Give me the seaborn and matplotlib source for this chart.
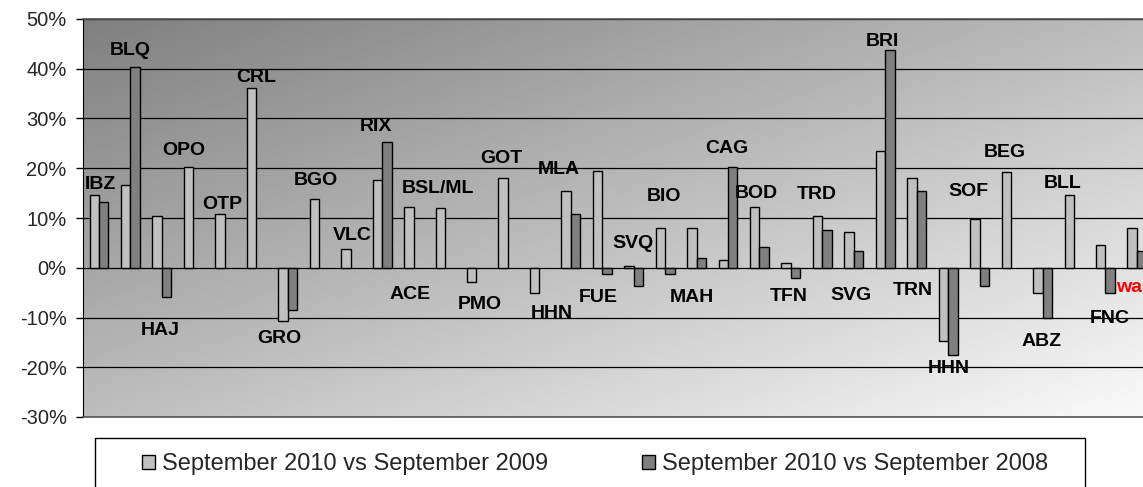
import matplotlib
matplotlib.use("Agg")
import matplotlib.pyplot as plt
import matplotlib.patches as mpatches
from matplotlib.ticker import FuncFormatter
import seaborn as sns
import numpy as np
import pandas as pd

# airport codes, one slot each (HHN appears twice in the original)
codes = ["IBZ", "BLQ", "HAJ", "OPO", "OTP", "CRL", "GRO", "BGO", "VLC", "RIX",
         "ACE", "BSL/ML", "PMO", "GOT", "HHN", "MLA", "FUE", "SVQ", "BIO", "MAH",
         "CAG", "BOD", "TFN", "TRD", "SVG", "BRI", "TRN", "HHN", "SOF", "BEG",
         "ABZ", "BLL", "FNC", "wa"]

# % change, Sept 2010 vs Sept 2009
vs_2009 = [14.6, 16.6, 10.5, 20.3, 10.8, 36.2, -10.7, 13.9, 3.7, 17.7,
           12.3, 12.0, -2.8, 18.0, -5.1, 15.4, 19.5, 0.3, 7.9, 7.9,
           1.5, 12.3, 1.0, 10.5, 7.1, 23.4, 18.0, -14.8, 9.7, 19.2,
           -5.1, 14.6, 4.5, 7.9]

# % change, Sept 2010 vs Sept 2008 (None = no bar)
vs_2008 = [13.2, 40.3, -5.8, None, None, None, -8.5, None, None, 25.2,
           None, None, None, None, None, 10.9, -1.3, -3.6, -1.3, 1.9,
           20.3, 4.1, -2.0, 7.5, 3.4, 43.8, 15.4, -17.5, -3.6, None,
           -10.0, None, -5.1, 3.3]

series_names = ["September 2010 vs September 2009", "September 2010 vs September 2008"]

# where the hand-placed code labels sit (data coords)
label_x = [0.06, 0.99, 1.94, 2.70, 3.91, 4.99, 5.75, 6.90, 8.04, 8.81,
           9.89, 10.78, 12.11, 12.78, 14.40, 14.63, 15.87, 16.98, 17.96, 18.85,
           19.97, 20.89, 21.94, 22.83, 23.91, 24.90, 25.88, 27.03, 27.63, 28.81,
           29.98, 30.65, 32.15, 32.34]
label_y = [16.7, 43.7, -12.7, 23.5, 12.7, 38.2, -14.3, 17.5, 6.4, 28.4,
           -5.4, 15.9, -7.4, 21.9, -9.1, 19.7, -6.0, 4.8, 14.3, -6.0,
           23.9, 14.9, -5.8, 14.7, -5.6, 45.5, -4.6, -20.3, 15.3, 23.1,
           -14.9, 16.9, -10.3, -4.0]

rows = []
for i in range(len(codes)):
    rows.append({"slot": i, "serie": series_names[0], "valor": vs_2009[i]})
    if vs_2008[i] is not None:
        rows.append({"slot": i, "serie": series_names[1], "valor": vs_2008[i]})
df = pd.DataFrame(rows)

sns.set_style("white")
plt.rcParams["font.family"] = ["Liberation Sans", "DejaVu Sans"]

W, H = 1143, 487
fig = plt.figure(figsize=(W / 100, H / 100), dpi=100)
ax = fig.add_axes([83.3 / W, (H - 417) / H, 1069.3 / W, 398 / H])

# diagonal grey gradient behind the plot
xf = np.linspace(0, 1, 400)
yf = np.linspace(1, 0, 200)
XX, YY = np.meshgrid(xf, yf)
t = (XX + (1 - YY)) / 2
grad = 0.50 + t * (0.98 - 0.50)
ax.imshow(grad, extent=(0, 1, 0, 1), transform=ax.transAxes, cmap="gray",
          vmin=0, vmax=1, aspect="auto", zorder=-1, interpolation="bilinear")

cores = {series_names[0]: "#c0c0c0", series_names[1]: "#808080"}
sns.barplot(data=df, x="slot", y="valor", hue="serie", hue_order=series_names,
            palette=cores, width=0.6, gap=0, errorbar=None, edgecolor="black",
            linewidth=1, legend=False, ax=ax)

ax.set_xlim(-0.5, len(codes) - 0.5)
ax.set_ylim(-30, 50)
ax.set_yticks(np.arange(-30, 51, 10))
ax.yaxis.set_major_formatter(FuncFormatter(lambda v, p: f"{v:.0f}%"))
ax.set_xticks([])
ax.set_xlabel("")
ax.set_ylabel("")
ax.tick_params(axis="y", direction="out", length=5, width=1, color="black",
               labelsize=14.5, pad=7, left=True)
ax.yaxis.grid(True, color="black", linewidth=0.9)
ax.set_axisbelow(True)

for s in ["top", "bottom"]:
    ax.spines[s].set_color("#555555")
    ax.spines[s].set_linewidth(1.2)
ax.spines["left"].set_color("black")
ax.spines["right"].set_visible(False)

for i, c in enumerate(codes):
    if c == "wa":
        ax.text(label_x[i], label_y[i], c, ha="left", va="center",
                fontsize=14, fontweight="bold", color="red", clip_on=False)
    else:
        ax.text(label_x[i], label_y[i], c, ha="center", va="center",
                fontsize=14, fontweight="bold", color="black", clip_on=False)

# legend box that runs off the bottom edge
caixa = mpatches.Rectangle((95 / W, -0.2), 990 / W, 0.2 + (H - 438) / H,
                           transform=fig.transFigure, facecolor="white",
                           edgecolor="black", linewidth=1)
fig.add_artist(caixa)
handles = [mpatches.Patch(facecolor=cores[n], edgecolor="black", linewidth=1)
           for n in series_names]
fig.legend(handles, series_names, loc="center",
           bbox_to_anchor=(595 / W, (H - 464) / H), ncol=2, frameon=False,
           fontsize=17, handlelength=0.55, handleheight=0.55, handletextpad=0.3,
           columnspacing=4.0)

fig.savefig("out.png", dpi=100)
